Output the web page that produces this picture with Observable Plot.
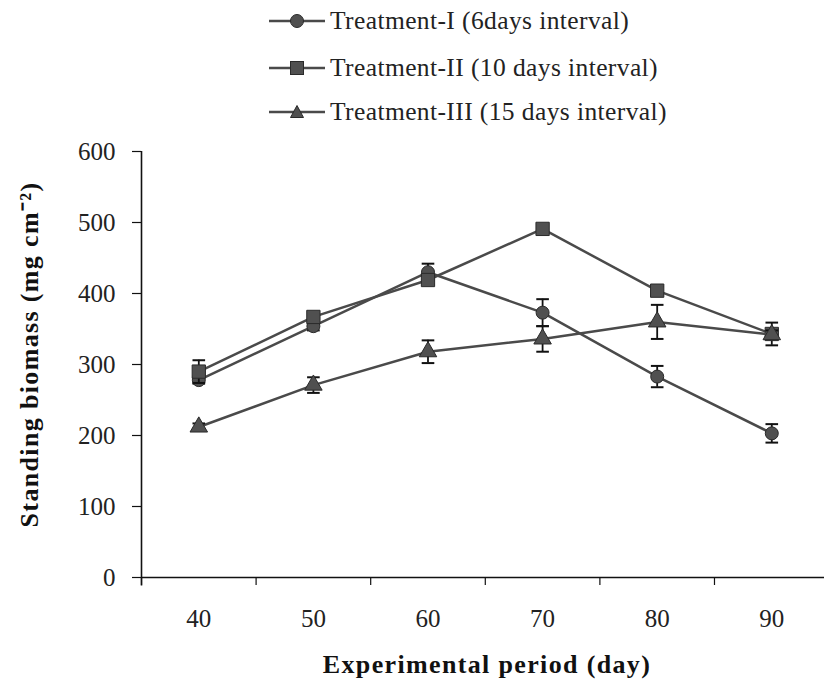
<!DOCTYPE html>
<html>
<head>
<meta charset="utf-8">
<script src="https://cdn.jsdelivr.net/npm/d3@7"></script>
<script src="https://cdn.jsdelivr.net/npm/@observablehq/plot@0.6"></script>
<style>
  body { margin: 0; background: #fff; font-family: "Liberation Serif", "Times New Roman", serif; }
  #legend { position: relative; height: 130px; width: 824px; }
  .item { position: absolute; left: 268px; display: flex; align-items: center; font-size: 25.5px; letter-spacing: 0.4px; color: #222; line-height: 29px; }
  .item svg { margin-right: 4px; }
  #chart svg g[aria-label="text"] text { letter-spacing: 1.35px; }
</style>
</head>
<body>
<div id="legend"></div>
<div id="chart"></div>
<script>
const days = [40, 50, 60, 70, 80, 90];
const seriesNames = ["Treatment-I (6days interval)", "Treatment-II (10 days interval)", "Treatment-III (15 days interval)"];
const symbols = ["circle", "square", "triangle"];
const t1 = [278, 354, 430, 373, 283, 203];
const t1err = [5, 6, 12, 19, 15, 13];
const t2 = [290, 367, 419, 491, 404, 343];
const t2err = [16, 5, 6, 4, 6, 16];
const t3 = [212, 271, 318, 336, 360, 342];
const t3err = [5, 11, 16, 18, 24, 6];
const yTicks = [0, 100, 200, 300, 400, 500, 600];
const xMinorTicks = [35, 45, 55, 65, 75, 85];
const xTitle = "Experimental period (day)";
const yTitle = "Standing biomass (mg cm⁻²)";

const values = [t1, t2, t3];
const errs = [t1err, t2err, t3err];
const data = [];
values.forEach((vals, s) => vals.forEach((v, i) => data.push({series: s, day: days[i], value: v, err: errs[s][i]})));

const lineColor = "#4a4a4a";
const markFill = "#505050";
const markStroke = "#2a2a2a";

// Legend
const legend = document.getElementById("legend");
const legendTops = [6, 53, 97];
seriesNames.forEach((name, s) => {
  const div = document.createElement("div");
  div.className = "item";
  div.style.top = legendTops[s] + "px";
  const sym = symbols[s];
  let shape;
  if (sym === "circle") shape = `<circle cx="29" cy="12" r="6.5" fill="${markFill}" stroke="${markStroke}"/>`;
  else if (sym === "square") shape = `<rect x="22.5" y="5.5" width="13" height="13" fill="${markFill}" stroke="${markStroke}"/>`;
  else shape = `<path d="M29,5.5 L35.5,17.5 L22.5,17.5 Z" fill="${markFill}" stroke="${markStroke}"/>`;
  div.innerHTML = `<svg width="58" height="24"><line x1="1" y1="12" x2="57" y2="12" stroke="${lineColor}" stroke-width="2.5"/>${shape}</svg><span>${name}</span>`;
  legend.appendChild(div);
});

const marks = [
  Plot.ruleY([0], {stroke: "#111", strokeWidth: 1.6}),
  Plot.ruleX([35], {stroke: "#111", strokeWidth: 1.6, y1: -12, y2: 600}),
  Plot.axisY({ticks: yTicks, tickSize: 9, tickPadding: 17, label: null, fontSize: 25, fill: "#222", stroke: "#111", strokeWidth: 1.2}),
  Plot.axisX({ticks: xMinorTicks, tickSize: 8, text: null, label: null, stroke: "#111", strokeWidth: 1.2}),
  Plot.axisX({ticks: days, tickSize: 0, tickPadding: 32, tickFormat: d => String(d), label: null, fontSize: 25, fill: "#222"}),
  Plot.text([xTitle], {text: d => d, frameAnchor: "bottom", dx: 4, dy: 95, fontSize: 26, fontWeight: "bold", fill: "#111"}),
  Plot.text([yTitle], {text: d => d, frameAnchor: "left", textAnchor: "middle", lineAnchor: "middle", rotate: -90, dx: -112, dy: -10, fontSize: 26, fontWeight: "bold", fill: "#111"})
];
[0, 1, 2].forEach(s => {
  const d = data.filter(r => r.series === s);
  marks.push(
    Plot.line(d, {x: "day", y: "value", stroke: lineColor, strokeWidth: 2.5}),
    Plot.ruleX(d, {x: "day", y1: r => r.value - r.err, y2: r => r.value + r.err, stroke: "#111", strokeWidth: 1.8}),
    Plot.link(d, {x1: r => r.day - 0.55, x2: r => r.day + 0.55, y1: r => r.value + r.err, y2: r => r.value + r.err, stroke: "#111", strokeWidth: 2}),
    Plot.link(d, {x1: r => r.day - 0.55, x2: r => r.day + 0.55, y1: r => r.value - r.err, y2: r => r.value - r.err, stroke: "#111", strokeWidth: 2}),
    Plot.dot(d, {x: "day", y: "value", symbol: () => symbols[s], r: s === 1 ? 7.5 : 6.5, fill: markFill, stroke: markStroke, strokeWidth: 1})
  );
});

const chart = Plot.plot({
  width: 824,
  height: 560,
  marginLeft: 141,
  marginRight: 0,
  marginTop: 21,
  marginBottom: 113,
  style: {fontFamily: "'Liberation Serif', 'Times New Roman', serif", background: "#fff", color: "#222"},
  x: {type: "linear", domain: [35, 94.6]},
  y: {domain: [0, 600]},
  symbol: {type: "identity"},
  marks
});
document.getElementById("chart").appendChild(chart);
</script>
</body>
</html>
